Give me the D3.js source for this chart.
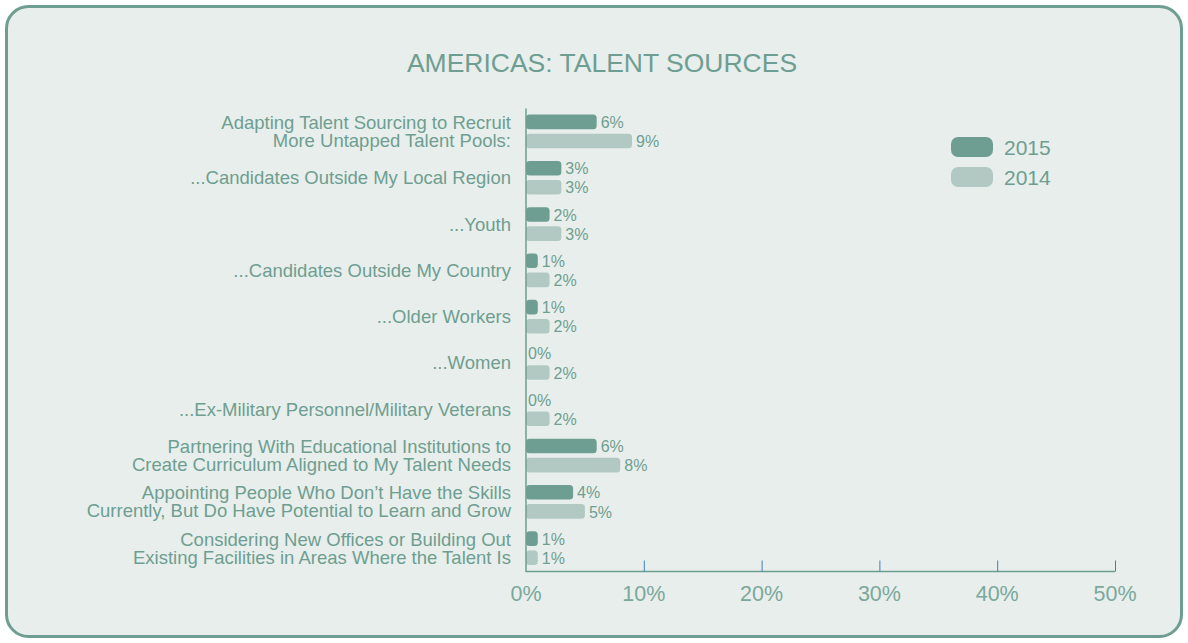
<!DOCTYPE html>
<html><head><meta charset="utf-8">
<script src="https://cdn.jsdelivr.net/npm/d3@7"></script>
<style>
html,body{margin:0;padding:0;background:#fff;}
svg{display:block;font-family:"Liberation Sans",Arial,sans-serif;}
</style></head>
<body>
<svg id="c" width="1188" height="643"></svg>
<script>
const title = "AMERICAS: TALENT SOURCES";
const categories = [
  ["Adapting Talent Sourcing to Recruit","More Untapped Talent Pools:"],
  ["...Candidates Outside My Local Region"],
  ["...Youth"],
  ["...Candidates Outside My Country"],
  ["...Older Workers"],
  ["...Women"],
  ["...Ex-Military Personnel/Military Veterans"],
  ["Partnering With Educational Institutions to","Create Curriculum Aligned to My Talent Needs"],
  ["Appointing People Who Don\u2019t Have the Skills","Currently, But Do Have Potential to Learn and Grow"],
  ["Considering New Offices or Building Out","Existing Facilities in Areas Where the Talent Is"]
];
const series = ["2015","2014"];
const values2015 = [6,3,2,1,1,0,0,6,4,1];
const values2014 = [9,3,3,2,2,2,2,8,5,1];
const xTicks = [0,10,20,30,40,50];

const colors = {"2015":"#6e9e91","2014":"#b1c9c2"};
const textColor = "#6e9e91";

const svg = d3.select("#c");
svg.append("rect").attr("x",0).attr("y",0).attr("width",1188).attr("height",643).attr("fill","#ffffff");
svg.append("rect").attr("x",6.5).attr("y",6.5).attr("width",1175).attr("height",630)
  .attr("rx",22).attr("ry",22).attr("fill","#e8eeeb").attr("stroke","#6e9e91").attr("stroke-width",3);

svg.append("text").attr("x",602).attr("y",72).attr("text-anchor","middle")
  .attr("fill",textColor).attr("font-size",26.5).text(title);

const ids = categories.map((d,i)=>i);
const x = d3.scaleLinear().domain([0,50]).range([526,1115]);
const y = d3.scaleBand().domain(ids).range([108.3,571.3]);
const sub = d3.scaleBand().domain(series).range([0,y.bandwidth()]).paddingInner(0.237).paddingOuter(0.33);

// bars
const data = [];
ids.forEach(i=>{
  data.push({i, s:"2015", v:values2015[i]});
  data.push({i, s:"2014", v:values2014[i]});
});
const g = svg.append("g");
g.selectAll("rect.bar").data(data).join("rect")
  .attr("class","bar")
  .attr("x",x(0))
  .attr("y",d=>y(d.i)+sub(d.s))
  .attr("width",d=>Math.max(0,x(d.v)-x(0)))
  .attr("height",sub.bandwidth())
  .attr("rx",3.5).attr("ry",3.5)
  .attr("fill",d=>colors[d.s]);

g.selectAll("text.val").data(data).join("text")
  .attr("class","val")
  .attr("x",d=>x(d.v)+(d.v===0?2:4))
  .attr("y",d=>y(d.i)+sub(d.s)+sub.bandwidth()/2+0.5)
  .attr("dy","0.35em")
  .attr("fill",textColor).attr("font-size",16)
  .text(d=>d.v+"%");

// category labels
const lab = svg.append("g");
ids.forEach(i=>{
  const lines = categories[i];
  const cy = y(i)+y.bandwidth()/2;
  const lh = 18;
  const t = lab.append("text").attr("text-anchor","end").attr("fill",textColor).attr("font-size",18.5);
  lines.forEach((l,k)=>{
    t.append("tspan").attr("x",511)
      .attr("y",cy + (k-(lines.length-1)/2)*lh)
      .attr("dy","0.35em").text(l);
  });
});

// y axis line
svg.append("line").attr("x1",x(0)).attr("x2",x(0)).attr("y1",108.5).attr("y2",572)
  .attr("stroke","#6e9e91").attr("stroke-width",1.5);

// x axis
const xAxis = d3.axisTop(x).tickValues(xTicks).tickSize(11).tickFormat("");
const ax = svg.append("g").attr("transform","translate(0,571.5)").call(xAxis);
ax.select(".domain").attr("stroke","#6e9e91").attr("stroke-width",1.5).attr("d",`M${x(0)},0H${x(50)}`);
ax.selectAll(".tick line").attr("stroke","#3f7fbf").attr("stroke-width",1);
ax.selectAll(".tick").filter(d=>d===0).select("line").remove();
svg.append("g").selectAll("text").data(xTicks).join("text")
  .attr("x",d=>x(d)).attr("y",601).attr("text-anchor","middle")
  .attr("fill","#7aa89c").attr("font-size",21.5).text(d=>d+"%");

// legend
const lg = svg.append("g");
series.forEach((s,k)=>{
  lg.append("rect").attr("x",951).attr("y",137+k*30).attr("width",42).attr("height",20)
    .attr("rx",7).attr("ry",7).attr("fill",colors[s]);
  lg.append("text").attr("x",1004).attr("y",148+k*30).attr("dy","0.35em")
    .attr("fill",textColor).attr("font-size",21).text(s);
});
</script>
</body></html>
